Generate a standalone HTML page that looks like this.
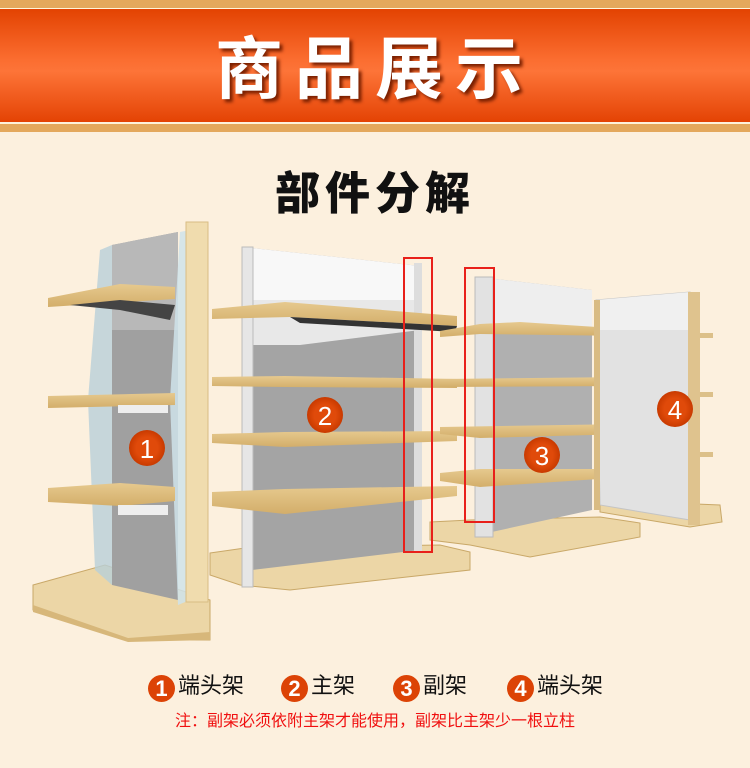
<!DOCTYPE html>
<html><head><meta charset="utf-8"><style>
html,body{margin:0;padding:0;width:750px;height:768px;overflow:hidden;background:#fcf0de;font-family:"Liberation Sans","Noto Sans CJK SC",sans-serif}
.top{position:absolute;left:0;top:0;width:750px;height:8px;background:#e4a85c;border-bottom:1px solid #fff3d8}
.band{position:absolute;left:0;top:9px;width:750px;height:113px;background:linear-gradient(#e34302 0%,#fb6d30 45%,#fd7438 55%,#e44304 100%)}
.bot{position:absolute;left:0;top:123px;width:750px;height:8px;background:#e4a85c;border-top:1px solid #fff3d8}
.title{position:absolute;left:0;top:22px;width:750px;text-align:center;color:#fff;font-size:68px;font-weight:bold;letter-spacing:12px;text-shadow:3px 3px 3px #7a2000;line-height:84px;font-family:"Noto Sans CJK SC",sans-serif}
.sub{position:absolute;left:0;top:161px;width:750px;text-align:center;font-size:45px;font-weight:900;letter-spacing:5px;color:#111;font-family:"Noto Sans CJK SC",sans-serif;line-height:58px}
.leg{position:absolute;top:669px;font-size:22px;color:#111;line-height:30px;font-family:"Noto Sans CJK SC",sans-serif}
.c{display:inline-block;width:27px;height:27px;border-radius:50%;background:#dc4306;color:#fff;text-align:center;font-family:"Liberation Sans",sans-serif;font-size:22px;font-weight:bold;line-height:27px;vertical-align:-3px;margin-right:3px}
.note{position:absolute;top:707px;left:0;width:750px;text-align:center;color:#f01010;font-size:16px;font-family:"Noto Sans CJK SC",sans-serif}
svg{position:absolute;left:0;top:0}
</style></head><body>
<div class="top"></div><div class="band"></div><div class="bot"></div>
<div class="title">商品展示</div>
<div class="sub">部件分解</div>
<svg width="750" height="768">
<defs>
<linearGradient id="w" x1="0" y1="0" x2="0" y2="1"><stop offset="0" stop-color="#e6c98e"/><stop offset="1" stop-color="#d3ae6a"/></linearGradient>
<radialGradient id="o"><stop offset="0.6" stop-color="#e04a0a"/><stop offset="1" stop-color="#c83a00"/></radialGradient>
</defs>
<!-- unit 1 -->
<polygon points="33,585 105,565 210,600 210,640 128,640 33,610" fill="#ecd6a6" stroke="#c9a868"/>
<polygon points="33,605 128,638 210,632 210,640 128,642 33,612" fill="#d7b77a"/>
<polygon points="112,245 178,232 178,600 112,585" fill="#a0a0a0"/>
<polygon points="112,245 178,232 178,330 112,330" fill="#b8b8b8"/>
<polygon points="100,250 112,245 112,585 95,570 88,400" fill="#b8d0d8" opacity="0.8"/>
<polygon points="180,232 190,230 196,400 190,600 178,605 170,400" fill="#cfe3ea" opacity="0.85"/>
<rect x="186" y="222" width="22" height="380" fill="#f0dcae" stroke="#d9bd84"/>
<polygon points="48,298 120,284 175,287 175,299 110,303 48,307" fill="url(#w)"/>
<polygon points="70,305 120,300 175,305 170,320 120,310" fill="#444"/>
<polygon points="48,396 175,393 175,405 48,408" fill="url(#w)"/>
<polygon points="48,488 120,483 175,487 175,501 120,506 48,502" fill="url(#w)"/>
<rect x="118" y="405" width="50" height="8" fill="#eee"/><rect x="118" y="505" width="50" height="10" fill="#eee"/>
<!-- unit 2 -->
<polygon points="210,553 245,548 440,545 470,552 470,570 290,590 240,585 210,575" fill="#ecd6a6" stroke="#c9a868"/>
<polygon points="252,248 420,266 420,550 252,570" fill="#a4a4a4"/>
<polygon points="252,248 420,266 420,300 252,300" fill="#f8f8f8"/>
<polygon points="252,300 420,300 420,330 300,345 252,345" fill="#e8e8e8"/>
<rect x="242" y="247" width="11" height="340" fill="#e6e6e6" stroke="#bbb"/>
<rect x="414" y="263" width="8" height="290" fill="#ddd"/>
<polygon points="212,309 285,302 457,316 457,326 290,317 212,319" fill="url(#w)"/>
<polygon points="290,317 457,326 455,332 300,323" fill="#333"/>
<polygon points="212,377 285,376 457,379 457,388 285,387 212,386" fill="url(#w)"/>
<polygon points="212,434 285,432 457,431 457,441 285,447 212,443" fill="url(#w)"/>
<polygon points="212,492 285,489 457,486 457,496 285,514 212,506" fill="url(#w)"/>
<!-- unit 3 -->
<polygon points="430,522 470,520 600,517 640,523 640,537 530,557 470,545 430,540" fill="#ecd6a6" stroke="#c9a868"/>
<polygon points="478,277 592,290 592,510 478,535" fill="#b0b0b0"/>
<polygon points="478,277 592,290 592,330 478,330" fill="#eeeeee"/>
<rect x="475" y="277" width="18" height="260" fill="#e2e2e2" stroke="#bbb"/>
<polygon points="440,331 480,324 520,322 628,329 628,336 480,334 440,337" fill="url(#w)"/>
<polygon points="440,379 628,377 628,386 440,387" fill="url(#w)"/>
<polygon points="440,427 628,424 628,434 480,438 440,434" fill="url(#w)"/>
<polygon points="440,473 480,469 628,469 628,477 480,487 440,481" fill="url(#w)"/>
<!-- unit 4 -->
<polygon points="600,500 720,505 722,522 690,527 600,512" fill="#ecd6a6" stroke="#c9a868"/>
<polygon points="596,300 690,292 690,520 600,505" fill="#e2e2e2" stroke="#c4c4c4"/>
<polygon points="596,300 690,292 690,330 596,330" fill="#f0f0f0"/>
<rect x="594" y="300" width="6" height="210" fill="#d9bb82"/>
<rect x="688" y="292" width="12" height="233" fill="#dfc38e"/>
<rect x="700" y="333" width="13" height="5" fill="#dcc089"/><rect x="700" y="392" width="13" height="5" fill="#dcc089"/><rect x="700" y="452" width="13" height="5" fill="#dcc089"/>
<!-- red boxes -->
<rect x="404" y="258" width="28" height="294" fill="none" stroke="#e8201a" stroke-width="2"/>
<rect x="465" y="268" width="29" height="254" fill="none" stroke="#e8201a" stroke-width="2"/>
<!-- badges -->
<g font-family="Liberation Sans" font-size="26" fill="#fff" text-anchor="middle">
<circle cx="147" cy="448" r="18" fill="url(#o)"/><text x="147" y="458">1</text>
<circle cx="325" cy="415" r="18" fill="url(#o)"/><text x="325" y="425">2</text>
<circle cx="542" cy="455" r="18" fill="url(#o)"/><text x="542" y="465">3</text>
<circle cx="675" cy="409" r="18" fill="url(#o)"/><text x="675" y="419">4</text>
</g>
</svg>
<div class="leg" style="left:148px"><span class="c">1</span>端头架</div>
<div class="leg" style="left:281px"><span class="c">2</span>主架</div>
<div class="leg" style="left:393px"><span class="c">3</span>副架</div>
<div class="leg" style="left:507px"><span class="c">4</span>端头架</div>
<div class="note">注：副架必须依附主架才能使用，副架比主架少一根立柱</div>
</body></html>
